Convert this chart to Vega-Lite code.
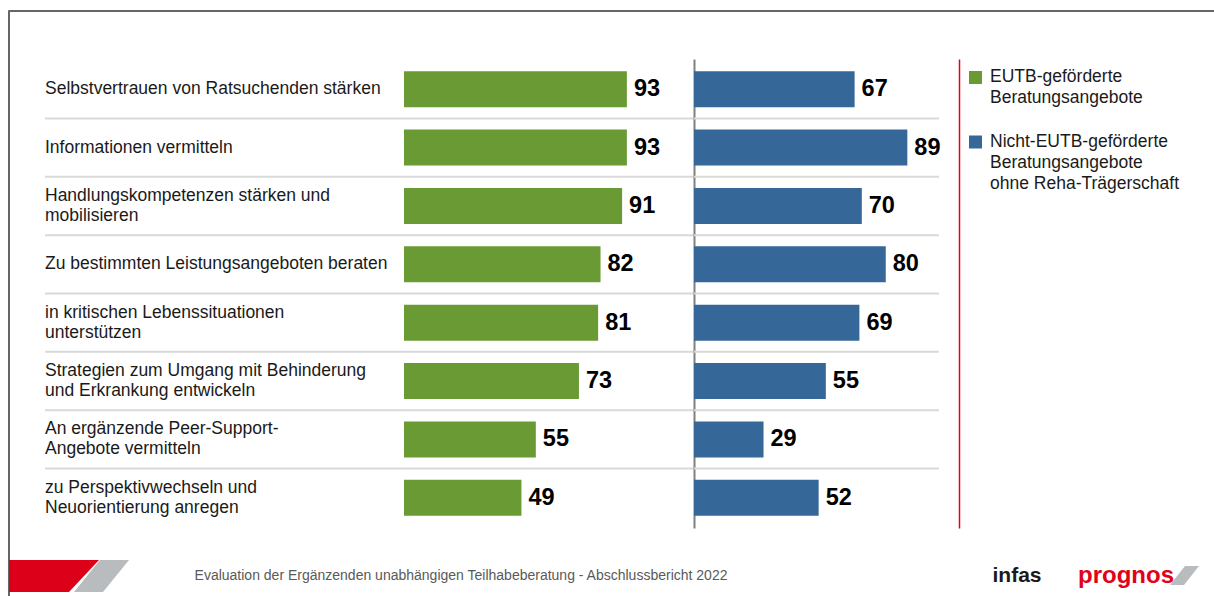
{
  "$schema": "https://vega.github.io/schema/vega-lite/v6.json",
  "background": "white",
  "padding": {"left": 7, "top": 9, "right": 0, "bottom": 0},
  "bounds": "flush",
  "spacing": 0,
  "config": {"view": {"stroke": null}, "font": "Liberation Sans"},
  "datasets": {
    "rows": [
      {"item": "Selbstvertrauen von Ratsuchenden stärken", "series": "EUTB-geförderte\nBeratungsangebote", "value": 93},
      {"item": "Informationen vermitteln", "series": "EUTB-geförderte\nBeratungsangebote", "value": 93},
      {"item": "Handlungskompetenzen stärken und\nmobilisieren", "series": "EUTB-geförderte\nBeratungsangebote", "value": 91},
      {"item": "Zu bestimmten Leistungsangeboten beraten", "series": "EUTB-geförderte\nBeratungsangebote", "value": 82},
      {"item": "in kritischen Lebenssituationen\nunterstützen", "series": "EUTB-geförderte\nBeratungsangebote", "value": 81},
      {"item": "Strategien zum Umgang mit Behinderung\nund Erkrankung entwickeln", "series": "EUTB-geförderte\nBeratungsangebote", "value": 73},
      {"item": "An ergänzende Peer-Support-\nAngebote vermitteln", "series": "EUTB-geförderte\nBeratungsangebote", "value": 55},
      {"item": "zu Perspektivwechseln und\nNeuorientierung anregen", "series": "EUTB-geförderte\nBeratungsangebote", "value": 49},
      {"item": "Selbstvertrauen von Ratsuchenden stärken", "series": "Nicht-EUTB-geförderte\nBeratungsangebote\nohne Reha-Trägerschaft", "value": 67},
      {"item": "Informationen vermitteln", "series": "Nicht-EUTB-geförderte\nBeratungsangebote\nohne Reha-Trägerschaft", "value": 89},
      {"item": "Handlungskompetenzen stärken und\nmobilisieren", "series": "Nicht-EUTB-geförderte\nBeratungsangebote\nohne Reha-Trägerschaft", "value": 70},
      {"item": "Zu bestimmten Leistungsangeboten beraten", "series": "Nicht-EUTB-geförderte\nBeratungsangebote\nohne Reha-Trägerschaft", "value": 80},
      {"item": "in kritischen Lebenssituationen\nunterstützen", "series": "Nicht-EUTB-geförderte\nBeratungsangebote\nohne Reha-Trägerschaft", "value": 69},
      {"item": "Strategien zum Umgang mit Behinderung\nund Erkrankung entwickeln", "series": "Nicht-EUTB-geförderte\nBeratungsangebote\nohne Reha-Trägerschaft", "value": 55},
      {"item": "An ergänzende Peer-Support-\nAngebote vermitteln", "series": "Nicht-EUTB-geförderte\nBeratungsangebote\nohne Reha-Trägerschaft", "value": 29},
      {"item": "zu Perspektivwechseln und\nNeuorientierung anregen", "series": "Nicht-EUTB-geförderte\nBeratungsangebote\nohne Reha-Trägerschaft", "value": 52}
    ]
  },
  "hconcat": [
    {"width": 1, "height": 586, "view": {"stroke": "#666666", "strokeWidth": 1}, "data": {"values": []}, "mark": "point", "encoding": {}},
    {
      "spacing": 0,
      "bounds": "full",
      "vconcat": [
        {"width": 1205, "height": 1, "view": {"stroke": "#666666", "strokeWidth": 1}, "data": {"values": []}, "mark": "point", "encoding": {}},
        {"width": 1, "height": 47, "data": {"values": []}, "mark": "point", "encoding": {}},
        {
          "spacing": 0,
          "bounds": "flush",
          "hconcat": [
            {"width": 36, "height": 469, "data": {"values": []}, "mark": "point", "encoding": {}},
            {
              "width": 359,
              "height": 469,
              "data": {"name": "rows"},
              "transform": [{"filter": "test(/^EUTB/, datum.series)"}],
              "layer": [
                {
                  "transform": [{"filter": "datum.item !== 'Selbstvertrauen von Ratsuchenden stärken'"}],
                  "mark": {"type": "rule", "color": "#d9d9d9", "strokeWidth": 2},
                  "encoding": {
                    "y": {"field": "item", "type": "nominal", "sort": null, "bandPosition": -0.3117, "axis": null,
                      "scale": {"type": "band", "paddingInner": 0.384, "paddingOuter": 0.21, "domain": ["Selbstvertrauen von Ratsuchenden stärken", "Informationen vermitteln", "Handlungskompetenzen stärken und\nmobilisieren", "Zu bestimmten Leistungsangeboten beraten", "in kritischen Lebenssituationen\nunterstützen", "Strategien zum Umgang mit Behinderung\nund Erkrankung entwickeln", "An ergänzende Peer-Support-\nAngebote vermitteln", "zu Perspektivwechseln und\nNeuorientierung anregen"]}}
                  }
                },
                {
                  "transform": [{"filter": "indexof(datum.item, '\\n') < 0"}],
                  "mark": {"type": "text", "align": "left", "baseline": "middle", "fontSize": 17.5, "lineHeight": 20, "lineBreak": "\n", "color": "#1a1a1a"},
                  "encoding": {
                    "y": {"field": "item", "type": "nominal", "sort": null, "axis": null,
                      "scale": {"type": "band", "paddingInner": 0.384, "paddingOuter": 0.21, "domain": ["Selbstvertrauen von Ratsuchenden stärken", "Informationen vermitteln", "Handlungskompetenzen stärken und\nmobilisieren", "Zu bestimmten Leistungsangeboten beraten", "in kritischen Lebenssituationen\nunterstützen", "Strategien zum Umgang mit Behinderung\nund Erkrankung entwickeln", "An ergänzende Peer-Support-\nAngebote vermitteln", "zu Perspektivwechseln und\nNeuorientierung anregen"]}},
                    "x": {"datum": 0, "type": "quantitative", "scale": {"domain": [0, 1]}, "axis": null},
                    "text": {"field": "item"}
                  }
                },
                {
                  "transform": [{"filter": "indexof(datum.item, '\\n') >= 0"}],
                  "mark": {"type": "text", "align": "left", "baseline": "middle", "dy": -10, "fontSize": 17.5, "lineHeight": 20, "lineBreak": "\n", "color": "#1a1a1a"},
                  "encoding": {
                    "y": {"field": "item", "type": "nominal", "sort": null, "axis": null,
                      "scale": {"type": "band", "paddingInner": 0.384, "paddingOuter": 0.21, "domain": ["Selbstvertrauen von Ratsuchenden stärken", "Informationen vermitteln", "Handlungskompetenzen stärken und\nmobilisieren", "Zu bestimmten Leistungsangeboten beraten", "in kritischen Lebenssituationen\nunterstützen", "Strategien zum Umgang mit Behinderung\nund Erkrankung entwickeln", "An ergänzende Peer-Support-\nAngebote vermitteln", "zu Perspektivwechseln und\nNeuorientierung anregen"]}},
                    "x": {"datum": 0, "type": "quantitative", "scale": {"domain": [0, 1]}, "axis": null},
                    "text": {"field": "item"}
                  }
                }
              ]
            },
            {
              "width": 290,
              "height": 469,
              "data": {"name": "rows"},
              "transform": [{"filter": "test(/^EUTB/, datum.series)"}],
              "layer": [
                {
                  "transform": [{"filter": "datum.item !== 'Selbstvertrauen von Ratsuchenden stärken'"}],
                  "mark": {"type": "rule", "color": "#d9d9d9", "strokeWidth": 2},
                  "encoding": {
                    "y": {"field": "item", "type": "nominal", "sort": null, "bandPosition": -0.3117, "axis": null,
                      "scale": {"type": "band", "paddingInner": 0.384, "paddingOuter": 0.21, "domain": ["Selbstvertrauen von Ratsuchenden stärken", "Informationen vermitteln", "Handlungskompetenzen stärken und\nmobilisieren", "Zu bestimmten Leistungsangeboten beraten", "in kritischen Lebenssituationen\nunterstützen", "Strategien zum Umgang mit Behinderung\nund Erkrankung entwickeln", "An ergänzende Peer-Support-\nAngebote vermitteln", "zu Perspektivwechseln und\nNeuorientierung anregen"]}}
                  }
                },
                {
                  "mark": {"type": "bar"},
                  "encoding": {
                    "y": {"field": "item", "type": "nominal", "sort": null,
                      "scale": {"type": "band", "paddingInner": 0.384, "paddingOuter": 0.21, "domain": ["Selbstvertrauen von Ratsuchenden stärken", "Informationen vermitteln", "Handlungskompetenzen stärken und\nmobilisieren", "Zu bestimmten Leistungsangeboten beraten", "in kritischen Lebenssituationen\nunterstützen", "Strategien zum Umgang mit Behinderung\nund Erkrankung entwickeln", "An ergänzende Peer-Support-\nAngebote vermitteln", "zu Perspektivwechseln und\nNeuorientierung anregen"]},
                      "axis": {"domain": true, "domainColor": "#808080", "domainWidth": 2, "labels": false, "ticks": false, "title": null, "grid": false}},
                    "x": {"field": "value", "type": "quantitative", "scale": {"domain": [0, 121]}, "axis": null},
                    "color": {"field": "series", "type": "nominal", "legend": null,
                      "scale": {"domain": ["EUTB-geförderte\nBeratungsangebote", "Nicht-EUTB-geförderte\nBeratungsangebote\nohne Reha-Trägerschaft"], "range": ["#6a9a34", "#356899"]}}
                  }
                },
                {
                  "mark": {"type": "text", "align": "left", "baseline": "middle", "dx": 7, "fontSize": 23.5, "fontWeight": "bold", "color": "#000000"},
                  "encoding": {
                    "y": {"field": "item", "type": "nominal", "sort": null, "axis": null,
                      "scale": {"type": "band", "paddingInner": 0.384, "paddingOuter": 0.21, "domain": ["Selbstvertrauen von Ratsuchenden stärken", "Informationen vermitteln", "Handlungskompetenzen stärken und\nmobilisieren", "Zu bestimmten Leistungsangeboten beraten", "in kritischen Lebenssituationen\nunterstützen", "Strategien zum Umgang mit Behinderung\nund Erkrankung entwickeln", "An ergänzende Peer-Support-\nAngebote vermitteln", "zu Perspektivwechseln und\nNeuorientierung anregen"]}},
                    "x": {"field": "value", "type": "quantitative", "scale": {"domain": [0, 121]}, "axis": null},
                    "text": {"field": "value"}
                  }
                }
              ]
            },
            {
              "width": 265,
              "height": 469,
              "data": {"name": "rows"},
              "transform": [{"filter": "test(/^Nicht/, datum.series)"}],
              "resolve": {"axis": {"y": "independent"}},
              "layer": [
                {
                  "transform": [{"filter": "datum.item !== 'Selbstvertrauen von Ratsuchenden stärken'"}],
                  "mark": {"type": "rule", "color": "#d9d9d9", "strokeWidth": 2},
                  "encoding": {
                    "y": {"field": "item", "type": "nominal", "sort": null, "bandPosition": -0.3117,
                      "scale": {"type": "band", "paddingInner": 0.384, "paddingOuter": 0.21, "domain": ["Selbstvertrauen von Ratsuchenden stärken", "Informationen vermitteln", "Handlungskompetenzen stärken und\nmobilisieren", "Zu bestimmten Leistungsangeboten beraten", "in kritischen Lebenssituationen\nunterstützen", "Strategien zum Umgang mit Behinderung\nund Erkrankung entwickeln", "An ergänzende Peer-Support-\nAngebote vermitteln", "zu Perspektivwechseln und\nNeuorientierung anregen"]},
                      "axis": {"orient": "right", "domain": true, "domainColor": "#e2001a", "domainWidth": 1.5, "labels": false, "ticks": false, "title": null, "grid": false}},
                    "x": {"datum": 0, "type": "quantitative", "scale": {"domain": [0, 110.55]}, "axis": null},
                    "x2": {"datum": 102.2}
                  }
                },
                {
                  "mark": {"type": "bar"},
                  "encoding": {
                    "y": {"field": "item", "type": "nominal", "sort": null,
                      "scale": {"type": "band", "paddingInner": 0.384, "paddingOuter": 0.21, "domain": ["Selbstvertrauen von Ratsuchenden stärken", "Informationen vermitteln", "Handlungskompetenzen stärken und\nmobilisieren", "Zu bestimmten Leistungsangeboten beraten", "in kritischen Lebenssituationen\nunterstützen", "Strategien zum Umgang mit Behinderung\nund Erkrankung entwickeln", "An ergänzende Peer-Support-\nAngebote vermitteln", "zu Perspektivwechseln und\nNeuorientierung anregen"]},
                      "axis": {"orient": "left", "domain": true, "domainColor": "#808080", "domainWidth": 2, "labels": false, "ticks": false, "title": null, "grid": false}},
                    "x": {"field": "value", "type": "quantitative", "scale": {"domain": [0, 110.55]}, "axis": null},
                    "color": {"field": "series", "type": "nominal", "legend": null,
                      "scale": {"domain": ["EUTB-geförderte\nBeratungsangebote", "Nicht-EUTB-geförderte\nBeratungsangebote\nohne Reha-Trägerschaft"], "range": ["#6a9a34", "#356899"]}}
                  }
                },
                {
                  "mark": {"type": "text", "align": "left", "baseline": "middle", "dx": 7, "fontSize": 23.5, "fontWeight": "bold", "color": "#000000"},
                  "encoding": {
                    "y": {"field": "item", "type": "nominal", "sort": null, "axis": null,
                      "scale": {"type": "band", "paddingInner": 0.384, "paddingOuter": 0.21, "domain": ["Selbstvertrauen von Ratsuchenden stärken", "Informationen vermitteln", "Handlungskompetenzen stärken und\nmobilisieren", "Zu bestimmten Leistungsangeboten beraten", "in kritischen Lebenssituationen\nunterstützen", "Strategien zum Umgang mit Behinderung\nund Erkrankung entwickeln", "An ergänzende Peer-Support-\nAngebote vermitteln", "zu Perspektivwechseln und\nNeuorientierung anregen"]}},
                    "x": {"field": "value", "type": "quantitative", "scale": {"domain": [0, 110.55]}, "axis": null},
                    "text": {"field": "value"}
                  }
                }
              ]
            },
            {
              "width": 33,
              "height": 101.5,
              "data": {"name": "rows"},
              "transform": [{"aggregate": [{"op": "count", "as": "n"}], "groupby": ["series"]}],
              "encoding": {
                "y": {"field": "series", "type": "nominal", "sort": null, "axis": null,
                  "scale": {"type": "point", "padding": 0.2868, "domain": ["EUTB-geförderte\nBeratungsangebote", "Nicht-EUTB-geförderte\nBeratungsangebote\nohne Reha-Trägerschaft"]}}
              },
              "layer": [
                {
                  "mark": {"type": "point", "shape": "square", "filled": true, "size": 169, "opacity": 1},
                  "encoding": {
                    "color": {"field": "series", "type": "nominal", "legend": null,
                      "scale": {"domain": ["EUTB-geförderte\nBeratungsangebote", "Nicht-EUTB-geförderte\nBeratungsangebote\nohne Reha-Trägerschaft"], "range": ["#6a9a34", "#356899"]}}
                  }
                },
                {
                  "mark": {"type": "text", "align": "left", "baseline": "alphabetic", "dx": 14.5, "dy": 5, "fontSize": 17.5, "lineHeight": 21, "lineBreak": "\n", "color": "#1a1a1a"},
                  "encoding": {"text": {"field": "series"}}
                }
              ]
            }
          ]
        },
        {"width": 1, "height": 31, "data": {"values": []}, "mark": "point", "encoding": {}},
        {
          "spacing": 0,
          "bounds": "flush",
          "hconcat": [
            {
              "width": 120,
              "height": 32,
              "data": {"values": [{}]},
              "layer": [
                {"mark": {"type": "point", "shape": "M -1 -0.267 L 0.5 -0.267 L 0 0.267 L -1 0.267 Z", "size": 14400, "filled": true, "color": "#dc0018", "opacity": 1}, "encoding": {}},
                {"mark": {"type": "point", "shape": "M 0.517 -0.267 L 1 -0.267 L 0.567 0.267 L 0.083 0.267 Z", "size": 14400, "filled": true, "color": "#b8bcbe", "opacity": 1}, "encoding": {}}
              ]
            },
            {
              "width": 664,
              "height": 32,
              "data": {"values": [{}]},
              "mark": {"type": "text", "text": "Evaluation der Ergänzenden unabhängigen Teilhabeberatung - Abschlussbericht 2022", "fontSize": 14, "color": "#595959", "baseline": "middle"},
              "encoding": {}
            },
            {"width": 189, "height": 32, "data": {"values": []}, "mark": "point", "encoding": {}},
            {
              "width": 70,
              "height": 32,
              "data": {"values": [{}]},
              "mark": {"type": "text", "text": "infas", "fontWeight": "bold", "fontSize": 21, "color": "#1a1a1a", "baseline": "middle"},
              "encoding": {}
            },
            {
              "width": 148,
              "height": 32,
              "data": {"values": [{}]},
              "layer": [
                {"mark": {"type": "point", "shape": "M 5.9 -1 L 7.3 -1 L 5.8 0.9 L 4.4 0.9 Z", "size": 400, "filled": true, "color": "#b8bcbe", "opacity": 1}, "encoding": {}},
                {"mark": {"type": "text", "text": "prognos", "fontWeight": "bold", "fontSize": 24, "color": "#e2001a", "baseline": "middle"}, "encoding": {}}
              ]
            }
          ]
        }
      ]
    }
  ]
}
